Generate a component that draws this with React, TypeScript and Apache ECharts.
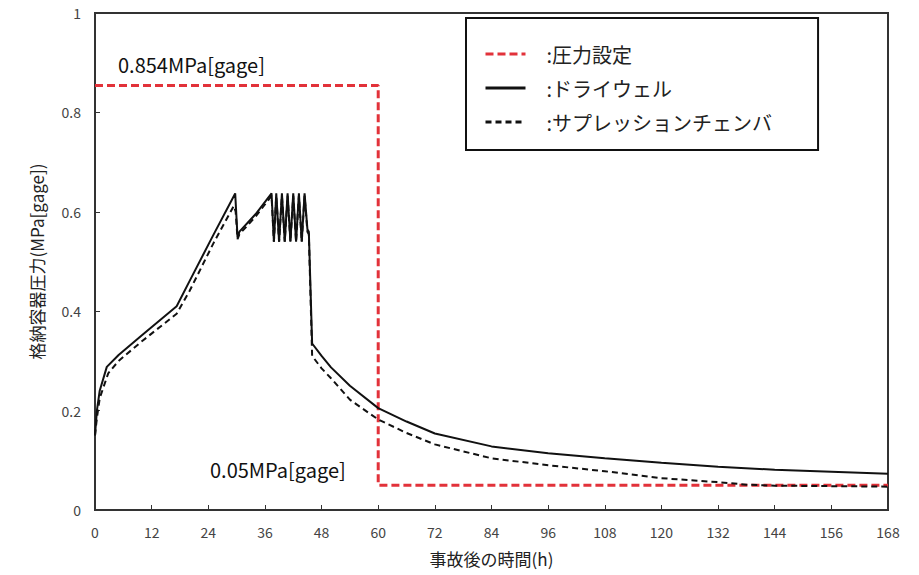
import React, { useEffect, useRef } from "react";
import * as echarts from "echarts";

const xTicks = { min: 0, max: 168, interval: 12 };
const yTicks = { min: 0, max: 1, interval: 0.2 };

const seriesNames = ["圧力設定", "ドライウェル", "サプレッションチェンバ"];

const setPressure: [number, number][] = [
  [0, 0.854], [60, 0.854], [60, 0.05], [168, 0.05],
];

const drywell: [number, number][] = [
  [0, 0.15], [0.4, 0.2], [1, 0.24], [2.5, 0.288], [5, 0.312], [10, 0.352], [17.3, 0.41],
  [20, 0.46], [25, 0.552], [29.7, 0.637], [30.2, 0.548], [30.6, 0.56], [34, 0.595], [37.4, 0.637],
  [37.9, 0.54], [38.4, 0.637], [39.0, 0.54], [39.6, 0.637], [40.2, 0.54], [40.8, 0.637],
  [41.4, 0.54], [42.0, 0.637], [42.6, 0.54], [43.2, 0.637], [43.8, 0.54], [44.4, 0.637],
  [45.0, 0.565], [45.3, 0.56], [46, 0.335], [48, 0.31], [50, 0.287], [54, 0.25], [60, 0.205],
  [66, 0.178], [72, 0.154], [84, 0.128], [96, 0.114], [108, 0.104], [120, 0.095], [132, 0.087],
  [144, 0.081], [156, 0.077], [168, 0.073],
];

const suppression: [number, number][] = [
  [0, 0.15], [0.4, 0.185], [1, 0.225], [2.8, 0.275], [5, 0.3], [10, 0.34], [17.3, 0.395],
  [20, 0.44], [25, 0.535], [29.4, 0.612], [29.8, 0.6], [30.2, 0.545], [30.6, 0.555], [34, 0.59],
  [37.4, 0.632], [37.9, 0.54], [38.4, 0.632], [39.0, 0.54], [39.6, 0.632], [40.2, 0.54],
  [40.8, 0.632], [41.4, 0.54], [42.0, 0.632], [42.6, 0.54], [43.2, 0.632], [43.8, 0.54],
  [44.4, 0.632], [45.0, 0.56], [45.3, 0.555], [46, 0.31], [48, 0.285], [50, 0.265], [54, 0.222],
  [60, 0.182], [66, 0.155], [72, 0.132], [84, 0.104], [96, 0.09], [108, 0.078], [120, 0.064],
  [132, 0.056], [138, 0.051], [144, 0.049], [156, 0.048], [168, 0.047],
];

const annotations = ["0.854MPa[gage]", "0.05MPa[gage]"];
const xName = "事故後の時間(h)";
const yName = "格納容器圧力(MPa[gage])";

const FONT = "'Noto Sans CJK JP', 'Noto Sans', sans-serif";

export default function App() {
  const ref = useRef<HTMLDivElement>(null);
  useEffect(() => {
    if (!ref.current) return;
    const chart = echarts.init(ref.current, undefined, { renderer: "svg" });
    chart.setOption({
      animation: false,
      backgroundColor: "#fff",
      textStyle: { fontFamily: FONT },
      grid: {
        left: 95, right: 31, top: 13, bottom: 65,
        show: true, borderColor: "#333", borderWidth: 2,
      },
      legend: {
        left: 466, top: 18,
        orient: "vertical",
        backgroundColor: "#fff",
        borderColor: "#111", borderWidth: 2,
        padding: [26, 46, 18, 18],
        itemWidth: 40, itemHeight: 14, itemGap: 14,
        formatter: (n: string) => ":" + n,
        itemStyle: { color: "transparent", borderWidth: 0, opacity: 0 },
        lineStyle: { width: 3 },
        textStyle: { fontSize: 20, color: "#222", fontFamily: FONT, padding: [0, 0, 0, 16] },
        data: seriesNames,
      },
      xAxis: {
        type: "value",
        min: xTicks.min, max: xTicks.max, interval: xTicks.interval,
        name: xName, nameLocation: "middle", nameGap: 40,
        nameTextStyle: { fontSize: 17, color: "#222", fontFamily: FONT },
        axisLine: { lineStyle: { color: "#333", width: 2 } },
        axisTick: { inside: true, length: 5, lineStyle: { color: "#333" } },
        axisLabel: { fontSize: 14, color: "#444", margin: 15, fontFamily: FONT },
        splitLine: { show: false },
      },
      yAxis: {
        type: "value",
        min: yTicks.min, max: yTicks.max, interval: yTicks.interval,
        name: yName, nameLocation: "middle", nameGap: 50, nameRotate: 90,
        nameTextStyle: { fontSize: 17, color: "#222", fontFamily: FONT },
        axisLine: { show: true, lineStyle: { color: "#333", width: 2 } },
        axisTick: { show: true, inside: true, length: 5, lineStyle: { color: "#333" } },
        axisLabel: { fontSize: 14, color: "#444", margin: 14, fontFamily: FONT },
        splitLine: { show: false },
      },
      graphic: [
        {
          type: "text", left: 118, top: 54, z: 10,
          style: { text: annotations[0], fontSize: 20, fill: "#111", fontFamily: FONT },
        },
        {
          type: "text", left: 210, top: 459, z: 10,
          style: { text: annotations[1], fontSize: 20, fill: "#111", fontFamily: FONT },
        },
      ],
      series: [
        {
          name: seriesNames[0], type: "line", data: setPressure,
          symbol: "none", color: "#e2323a",
          lineStyle: { color: "#e2323a", width: 3, type: [8, 4] },
          z: 3,
        },
        {
          name: seriesNames[1], type: "line", data: drywell,
          symbol: "none", color: "#111",
          lineStyle: { color: "#111", width: 2, type: "solid" },
          z: 4,
        },
        {
          name: seriesNames[2], type: "line", data: suppression,
          symbol: "none", color: "#111",
          lineStyle: { color: "#111", width: 2, type: [6, 4] },
          z: 4,
        },
      ],
    });
    return () => chart.dispose();
  }, []);
  return (
    <div
      ref={ref}
      style={{ position: "fixed", left: 0, top: 0, width: 919, height: 575 }}
    />
  );
}
